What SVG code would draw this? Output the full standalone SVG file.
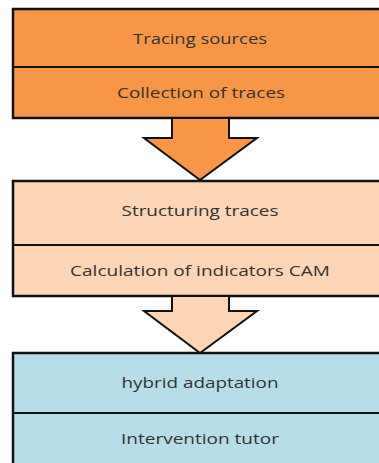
<svg xmlns="http://www.w3.org/2000/svg" width="379" height="463" viewBox="0 0 379 463">
<style>
.box{stroke:#111;stroke-width:2.5}
.div{stroke:#111;stroke-width:2}
.arr{stroke:#111;stroke-width:2;stroke-linejoin:miter}
text{font-family:"Open Sans","Liberation Sans",sans-serif;font-size:15px;fill:#333;text-anchor:middle}
</style>
<rect width="379" height="463" fill="#fff"/>
<g id="stage1">
<rect class="box" x="13" y="9" width="380" height="109" fill="#F79646"/>
<line class="div" x1="13" y1="67" x2="393" y2="67"/>
<text x="200" y="44" textLength="134" lengthAdjust="spacingAndGlyphs">Tracing sources</text>
<text x="201" y="98" textLength="168" lengthAdjust="spacingAndGlyphs">Collection of traces</text>
</g>
<g id="stage2">
<rect class="box" x="13" y="181" width="380" height="115" fill="#FBD5B5"/>
<line class="div" x1="13" y1="245" x2="393" y2="245"/>
<text x="200" y="216" textLength="157" lengthAdjust="spacingAndGlyphs">Structuring traces</text>
<text x="200" y="276" textLength="260" lengthAdjust="spacingAndGlyphs">Calculation of indicators CAM</text>
</g>
<g id="stage3">
<rect class="box" x="13" y="353" width="380" height="130" fill="#B7DDE8"/>
<line class="div" x1="13" y1="413" x2="393" y2="413"/>
<text x="200" y="388" textLength="157" lengthAdjust="spacingAndGlyphs">hybrid adaptation</text>
<text x="200" y="444" textLength="158" lengthAdjust="spacingAndGlyphs">Intervention tutor</text>
</g>
<g id="connectors">
<path class="arr" fill="#F79646" d="M172,119 V138 H144 L200,180 L257,138 H229 V119"/>
<path class="arr" fill="#FBD5B5" d="M172,297 V311 H144 L200,353 L257,311 H229 V297"/>
</g>
</svg>
